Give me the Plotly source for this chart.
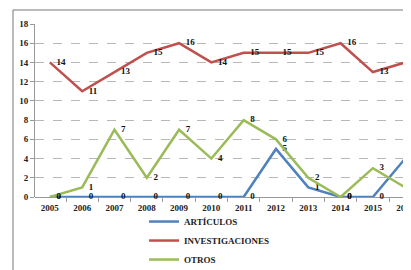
import plotly.graph_objects as go

years = ["2005", "2006", "2007", "2008", "2009", "2010", "2011", "2012", "2013", "2014", "2015", "2016"]
articulos = [0, 0, 0, 0, 0, 0, 0, 5, 1, 0, 0, 4]
investigaciones = [14, 11, 13, 15, 16, 14, 15, 15, 15, 16, 13, 14]
otros = [0, 1, 7, 2, 7, 4, 8, 6, 2, 0, 3, 1]
y_ticks = [0, 2, 4, 6, 8, 10, 12, 14, 16, 18]

series = [
    ("ARTÍCULOS", articulos, "#4F81BD"),
    ("INVESTIGACIONES", investigaciones, "#C0504D"),
    ("OTROS", otros, "#9BBB59"),
]

xi = list(range(len(years)))
FF = "Liberation Serif"

fig = go.Figure()
for name, vals, col in series:
    labels = [str(v) for v in vals]
    labels[-1] = ""  # last point's label falls outside the visible frame
    fig.add_trace(go.Scatter(
        x=xi, y=vals, name=name, mode="lines+markers+text",
        line=dict(color=col, width=2.5),
        marker=dict(size=9, color="rgba(0,0,0,0)"),
        text=labels, textposition="middle right",
        textfont=dict(family=FF, size=9, color="#111", weight="bold"),
        cliponaxis=False,
    ))

fig.update_layout(
    width=411, height=270,
    margin=dict(l=27, r=8, t=16, b=81, autoexpand=False),
    paper_bgcolor="white", plot_bgcolor="white",
    font=dict(family=FF, size=9, color="#222"),
    showlegend=True,
    legend=dict(orientation="v",
                x=0.29, y=-0.058, xanchor="left", yanchor="top",
                font=dict(family=FF, size=9, color="#222", weight="bold"),
                itemwidth=30, tracegroupgap=0, bgcolor="rgba(0,0,0,0)"),
    xaxis=dict(
        range=[-0.46, 11.18],
        tickmode="array", tickvals=xi, ticktext=years,
        ticks="", showgrid=False, zeroline=False,
        showline=False, ticklabeloverflow="allow", automargin=False,
        ticklabelstandoff=4,
        tickfont=dict(family=FF, size=9, color="#222", weight="bold"),
        minor=dict(tickmode="array", tickvals=[i + 0.5 for i in xi] + [-0.5],
                   ticks="outside", ticklen=4, tickcolor="#999", showgrid=False),
    ),
    yaxis=dict(
        range=[0, 18], tickmode="array", tickvals=y_ticks, automargin=False,
        showgrid=True, gridcolor="#b8b8b8", griddash="dash", gridwidth=1,
        zeroline=True, zerolinecolor="#999", zerolinewidth=1,
        showline=True, linecolor="#999", linewidth=1,
        ticks="outside", ticklen=4, tickcolor="#999",
        tickfont=dict(family=FF, size=9, color="#222", weight="bold"),
    ),
    shapes=[dict(type="rect", xref="paper", yref="paper",
                 x0=-0.0585, x1=1.2, y0=-0.6, y1=1.081,
                 line=dict(color="#777", width=1), fillcolor="rgba(0,0,0,0)",
                 layer="below")],
)

fig.write_html("out.html")
